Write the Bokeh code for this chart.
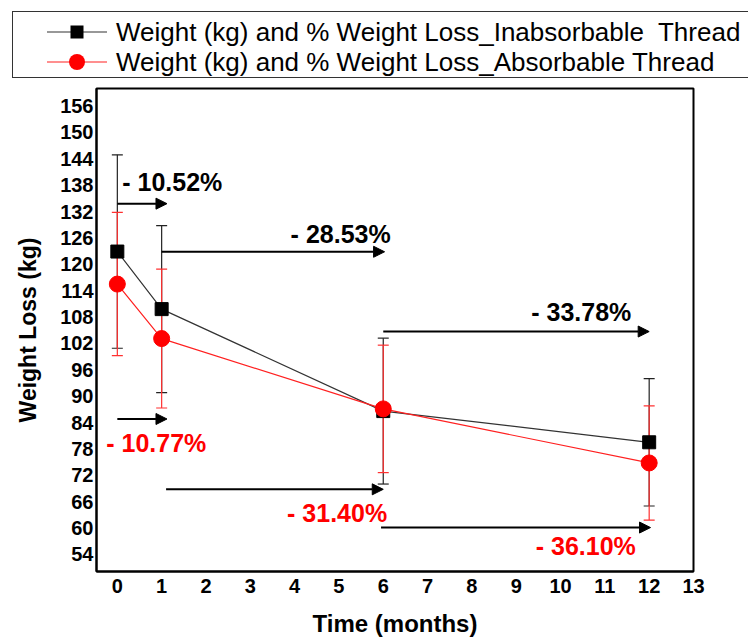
from bokeh.plotting import figure
from bokeh.layouts import column
from bokeh.models import (Range1d, FixedTicker, Whisker, ColumnDataSource, Arrow,
                          NormalHead, TeeHead, Div)
from bokeh.core.properties import value
from bokeh.embed import file_html
from bokeh.resources import INLINE

# ---- data ----
months = [0, 1, 6, 12]
weight_inabsorbable = [122.9, 109.8, 86.6, 79.5]
sd_inabsorbable = [22.0, 19.0, 16.6, 14.5]
weight_absorbable = [115.5, 103.1, 87.1, 74.8]
sd_absorbable = [16.3, 15.8, 14.5, 13.0]

y_ticks = list(range(54, 157, 6))
x_ticks = list(range(0, 14))

series_labels = ["Weight (kg) and % Weight Loss_Inabsorbable\u00a0 Thread",
                 "Weight (kg) and % Weight Loss_Absorbable Thread"]

# percentage-change annotations (from month, to month, level, text)
inab_from = [0, 1, 6]
inab_to = [1.12, 6.03, 12.0]
inab_level = [133.8, 122.85, 104.7]
inab_text = ["- 10.52%", "- 28.53%", "- 33.78%"]
inab_text_x = [0.11, 3.91, 9.34]
inab_text_y = [138.8, 126.9, 109.2]

ab_from = [0, 1.1, 5.95]
ab_to = [1.12, 6.0, 12.03]
ab_level = [84.8, 68.8, 60.1]
ab_text = ["- 10.77%", "- 31.40%", "- 36.10%"]
ab_text_x = [-0.25, 3.83, 9.44]
ab_text_y = [79.4, 63.3, 55.9]

FONT = "Liberation Sans"
BLACK_LINE = "#333333"
RED_LINE = "#ff2020"

# ---------- main plot ----------
p = figure(width=748, height=553, x_range=Range1d(-0.47, 13.0), y_range=Range1d(50.1, 160.0),
           output_backend="svg", toolbar_location=None,
           min_border_left=96, min_border_right=55, min_border_top=2, min_border_bottom=67)
p.grid.visible = False
p.outline_line_color = "black"
p.outline_line_width = 2
p.background_fill_color = "white"
p.border_fill_color = "white"

for ax in (p.xaxis[0], p.yaxis[0]):
    ax.major_tick_line_color = None
    ax.minor_tick_line_color = None
    ax.major_tick_out = 0
    ax.major_tick_in = 0
    ax.minor_tick_out = 0
    ax.minor_tick_in = 0
    ax.axis_line_color = "black"
    ax.axis_line_width = 2
    ax.major_label_text_font = FONT
    ax.major_label_text_font_style = "bold"
    ax.major_label_text_color = "black"
    ax.axis_label_text_font = FONT
    ax.axis_label_text_font_style = "bold"
    ax.axis_label_text_color = "black"

p.xaxis.ticker = FixedTicker(ticks=x_ticks)
p.yaxis.ticker = FixedTicker(ticks=y_ticks)
p.xaxis.major_label_text_font_size = "20px"
p.yaxis.major_label_text_font_size = "20px"
p.xaxis.axis_label = "Time (months)"
p.yaxis.axis_label = "Weight Loss (kg)"
p.xaxis.axis_label_text_font_size = "24px"
p.yaxis.axis_label_text_font_size = "23px"
p.xaxis.major_label_standoff = 7
p.yaxis.major_label_standoff = 3
p.xaxis.axis_label_standoff = 14
p.yaxis.axis_label_standoff = 16

src_b = ColumnDataSource(dict(x=months, y=weight_inabsorbable,
                              lo=[m - s for m, s in zip(weight_inabsorbable, sd_inabsorbable)],
                              hi=[m + s for m, s in zip(weight_inabsorbable, sd_inabsorbable)]))
src_r = ColumnDataSource(dict(x=months, y=weight_absorbable,
                              lo=[m - s for m, s in zip(weight_absorbable, sd_absorbable)],
                              hi=[m + s for m, s in zip(weight_absorbable, sd_absorbable)]))

wb = Whisker(source=src_b, base="x", upper="hi", lower="lo", line_color="#222222", line_width=1.2,
             upper_head=TeeHead(size=11, line_color="#222222", line_width=1.2),
             lower_head=TeeHead(size=11, line_color="#222222", line_width=1.2))
p.add_layout(wb)

p.line("x", "y", source=src_b, line_color=BLACK_LINE, line_width=1.2)
p.scatter("x", "y", source=src_b, marker="square", size=13, fill_color="black", line_color="black")
p.line("x", "y", source=src_r, line_color=RED_LINE, line_width=1.2)
p.scatter("x", "y", source=src_r, marker="circle", size=16, fill_color="#ff0000", line_color="#ff0000")

wr = Whisker(source=src_r, base="x", upper="hi", lower="lo", line_color="#ff3030", line_width=1.2,
             upper_head=TeeHead(size=11, line_color="#ff3030", line_width=1.2),
             lower_head=TeeHead(size=11, line_color="#ff3030", line_width=1.2))
p.add_layout(wr)

# arrows
for x0, x1, yv in list(zip(inab_from, inab_to, inab_level)) + list(zip(ab_from, ab_to, ab_level)):
    p.add_layout(Arrow(x_start=x0, y_start=yv, x_end=x1, y_end=yv, line_color="black", line_width=2,
                       end=NormalHead(size=11, fill_color="black", line_color="black")))

tb = ColumnDataSource(dict(x=inab_text_x, y=inab_text_y, t=inab_text))
ta = ColumnDataSource(dict(x=ab_text_x, y=ab_text_y, t=ab_text))
p.text("x", "y", text="t", source=tb, text_font=value(FONT), text_font_style="bold",
       text_font_size="25px", text_color="black", text_baseline="middle", text_align="left")
p.text("x", "y", text="t", source=ta, text_font=value(FONT), text_font_style="bold",
       text_font_size="25px", text_color="#ff0000", text_baseline="middle", text_align="left")

# ---------- legend strip above the plot ----------
icon_black = ('<svg width="60" height="20" style="display:block">'
              f'<line x1="0" y1="10" x2="60" y2="10" stroke="{BLACK_LINE}" stroke-width="1.2"/>'
              '<rect x="23.5" y="3.5" width="13" height="13" fill="black"/></svg>')
icon_red = ('<svg width="60" height="20" style="display:block">'
            f'<line x1="0" y1="10" x2="60" y2="10" stroke="{RED_LINE}" stroke-width="1.2"/>'
            '<circle cx="30" cy="10" r="8" fill="#ff0000"/></svg>')

def legend_row(top, icon, label):
    return (f'<div style="position:absolute;left:47px;top:{top}px;height:30px;display:flex;'
            f'align-items:center;white-space:pre;">{icon}'
            f'<span style="margin-left:9px;font-family:\'{FONT}\';font-size:26px;line-height:30px;'
            f'color:black;">{label}</span></div>')

legend_html = ('<div style="position:relative;width:748px;height:86px;overflow:hidden;background:white;">'
               '<div style="position:absolute;left:12px;top:11px;width:780px;height:67px;'
               'border:1.5px solid #333;box-sizing:border-box;"></div>'
               + legend_row(17, icon_black, series_labels[0])
               + legend_row(47, icon_red, series_labels[1])
               + '</div>')
legend_div = Div(text=legend_html, width=748, height=86, margin=(0, 0, 0, 0))

layout = column(legend_div, p, spacing=0)
open("out.html", "w").write(file_html(layout, INLINE))
